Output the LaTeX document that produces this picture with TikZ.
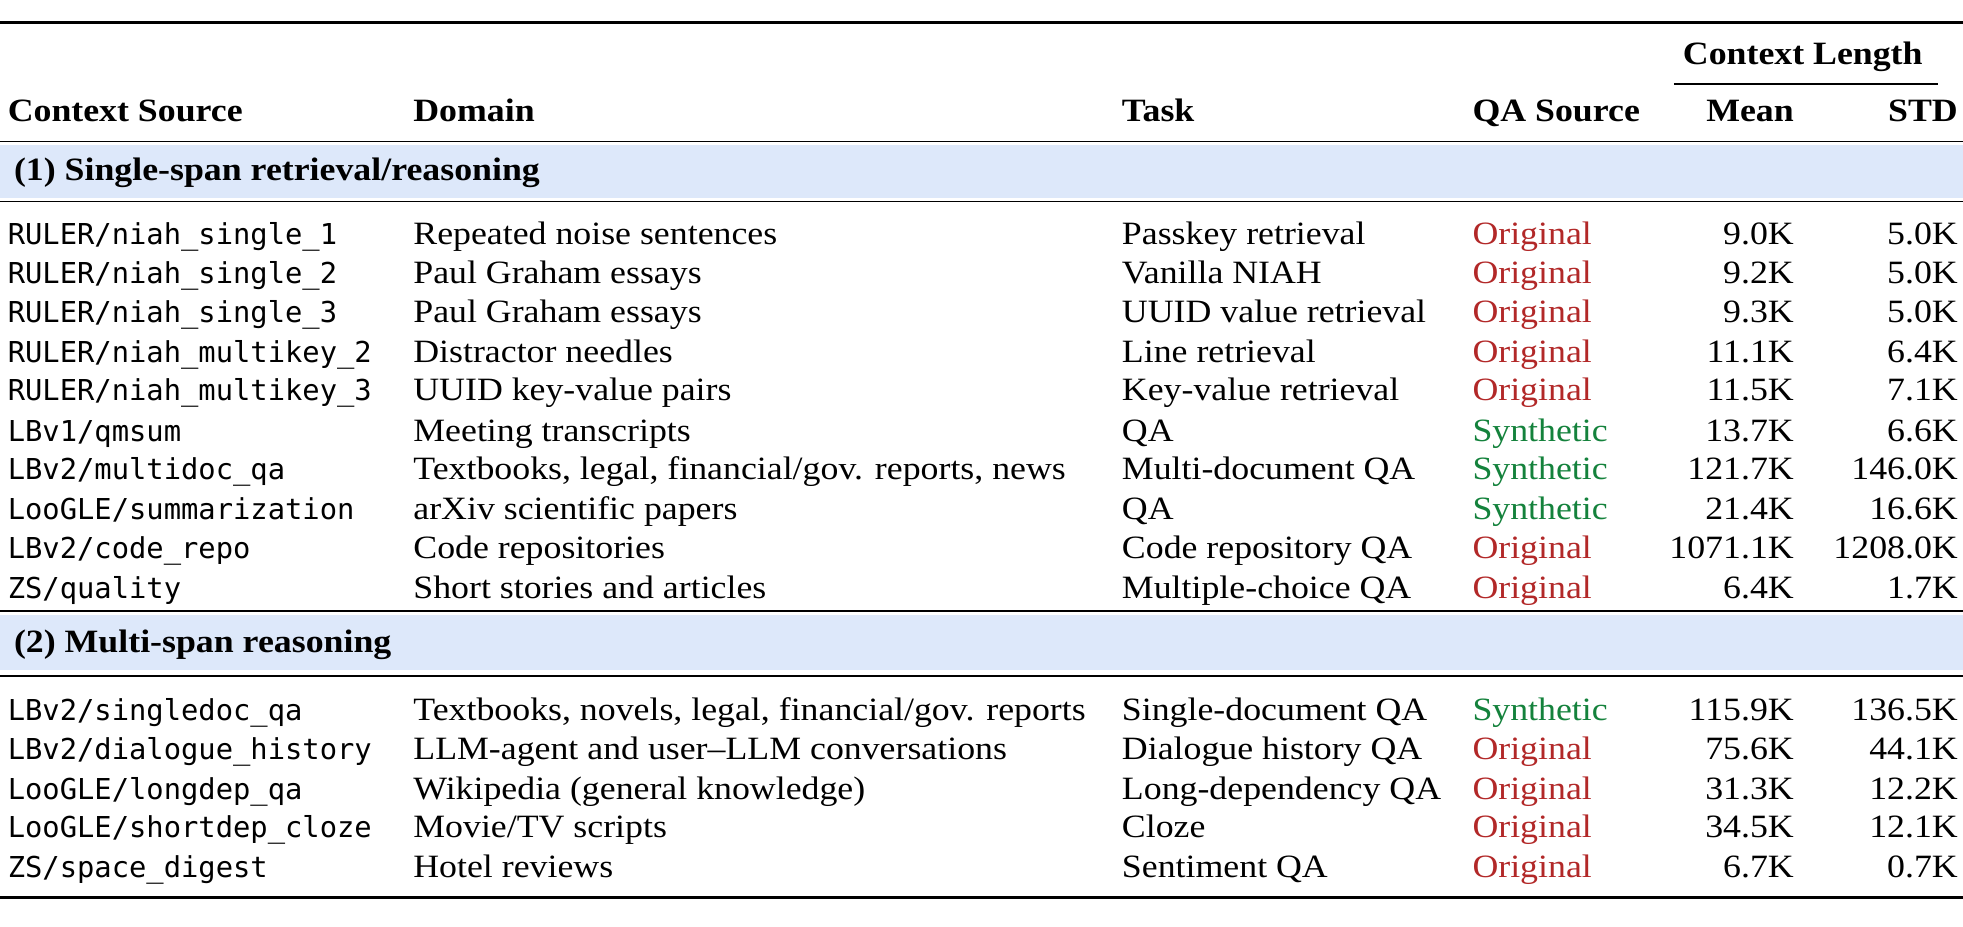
\documentclass[tikz,border=0pt]{standalone}
\usepackage{fontspec}
\setmainfont{Liberation Serif}[FakeStretch=1.10]
\setmonofont{DejaVu Sans Mono}
\definecolor{orig}{RGB}{178,40,40}
\definecolor{syn}{RGB}{20,130,60}
\definecolor{band}{RGB}{221,232,250}
\begin{document}
\begin{tikzpicture}[x=1pt,y=-1pt,
  t/.style={inner sep=0pt,anchor=mid west,yshift=-6pt,font=\fontsize{26}{30}\selectfont},
  r/.style={inner sep=0pt,anchor=mid east,yshift=-6pt,font=\fontsize{26}{30}\selectfont},
  m/.style={inner sep=0pt,anchor=mid west,yshift=-6pt,font=\fontsize{23}{28}\ttfamily},
  h/.style={inner sep=0pt,yshift=-5pt,font=\fontsize{26}{30}\selectfont\bfseries},
  thick rule/.style={line width=2.5pt},
  thin rule/.style={line width=1.3pt}]
\useasboundingbox (0,0) rectangle (1568,740);
\fill[white] (0,0) rectangle (1568,740);
\draw[thick rule] (0,18) -- (1568,18);
\node[h] (cl) at (1440,40) {Context Length};
\draw[thin rule] (1337,67) -- (1548,67);
\node[h,anchor=mid west] (h1) at (6,90) {Context Source};
\node[h,anchor=mid west] (h2) at (330,90) {Domain};
\node[h,anchor=mid west] (h3) at (896,90) {Task};
\node[h,anchor=mid west] (h4) at (1176,90) {QA Source};
\node[h,anchor=mid east] (h5) at (1433,90) {Mean};
\node[h,anchor=mid east] (h6) at (1564,90) {STD};
\draw[thin rule] (0,113) -- (1568,113);
\fill[band] (0,116) rectangle (1568,158);
\node[h,anchor=mid west] (s1) at (11,137) {(1) Single-span retrieval/reasoning};
\draw[thin rule] (0,161) -- (1568,161);
\newcommand\myrow[8]{%
  \node[m] (a#1) at (6,#2) {#3};
  \node[t] (b#1) at (330,#2) {#4};
  \node[t] (c#1) at (896,#2) {#5};
  \node[t] (d#1) at (1176,#2) {#6};
  \node[r] (e#1) at (1433,#2) {#7};
  \node[r] (f#1) at (1564,#2) {#8};}
\myrow{1}{187}{RULER/niah\_single\_1}{Repeated noise sentences}{Passkey retrieval}{\color{orig}Original}{9.0K}{5.0K}
\myrow{2}{218}{RULER/niah\_single\_2}{Paul Graham essays}{Vanilla NIAH}{\color{orig}Original}{9.2K}{5.0K}
\myrow{3}{249}{RULER/niah\_single\_3}{Paul Graham essays}{UUID value retrieval}{\color{orig}Original}{9.3K}{5.0K}
\myrow{4}{281}{RULER/niah\_multikey\_2}{Distractor needles}{Line retrieval}{\color{orig}Original}{11.1K}{6.4K}
\myrow{5}{312}{RULER/niah\_multikey\_3}{UUID key-value pairs}{Key-value retrieval}{\color{orig}Original}{11.5K}{7.1K}
\myrow{6}{344}{LBv1/qmsum}{Meeting transcripts}{QA}{\color{syn}Synthetic}{13.7K}{6.6K}
\myrow{7}{375}{LBv2/multidoc\_qa}{Textbooks, legal, financial/gov. reports, news}{Multi-document QA}{\color{syn}Synthetic}{121.7K}{146.0K}
\myrow{8}{407}{LooGLE/summarization}{arXiv scientific papers}{QA}{\color{syn}Synthetic}{21.4K}{16.6K}
\myrow{9}{438}{LBv2/code\_repo}{Code repositories}{Code repository QA}{\color{orig}Original}{1071.1K}{1208.0K}
\myrow{10}{470}{ZS/quality}{Short stories and articles}{Multiple-choice QA}{\color{orig}Original}{6.4K}{1.7K}
\draw[thin rule] (0,488) -- (1568,488);
\fill[band] (0,491) rectangle (1568,535);
\node[h,anchor=mid west] (s2) at (11,514) {(2) Multi-span reasoning};
\draw[thin rule] (0,540) -- (1568,540);
\myrow{11}{567}{LBv2/singledoc\_qa}{Textbooks, novels, legal, financial/gov. reports}{Single-document QA}{\color{syn}Synthetic}{115.9K}{136.5K}
\myrow{12}{598}{LBv2/dialogue\_history}{LLM-agent and user--LLM conversations}{Dialogue history QA}{\color{orig}Original}{75.6K}{44.1K}
\myrow{13}{630}{LooGLE/longdep\_qa}{Wikipedia (general knowledge)}{Long-dependency QA}{\color{orig}Original}{31.3K}{12.2K}
\myrow{14}{661}{LooGLE/shortdep\_cloze}{Movie/TV scripts}{Cloze}{\color{orig}Original}{34.5K}{12.1K}
\myrow{15}{693}{ZS/space\_digest}{Hotel reviews}{Sentiment QA}{\color{orig}Original}{6.7K}{0.7K}
\draw[thick rule] (0,717) -- (1568,717);
\end{tikzpicture}
\end{document}
